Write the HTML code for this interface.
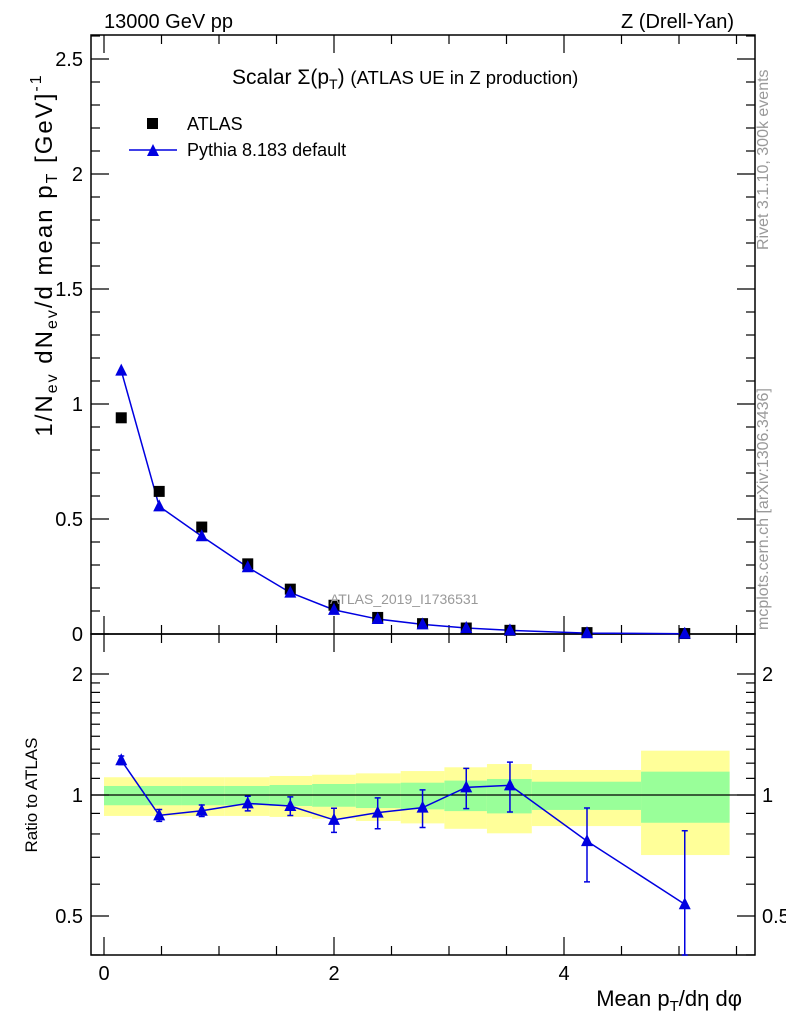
<!DOCTYPE html>
<html><head><meta charset="utf-8"><style>
body{margin:0;background:#fff;}
svg text{font-family:"Liberation Sans",sans-serif;}
</style></head><body>
<svg id="c" width="786" height="1024" xmlns="http://www.w3.org/2000/svg">
<g id="bands"></g>
<g id="axes"></g>
<g id="marks"></g>
<text x="104" y="28" font-size="20">13000 GeV pp</text>
<text x="734" y="28" font-size="20" text-anchor="end">Z (Drell-Yan)</text>
<text x="232" y="84" font-size="21">Scalar Σ(p<tspan font-size="14" dy="5">T</tspan><tspan dy="-5">) </tspan><tspan font-size="18.5">(ATLAS UE in Z production)</tspan></text>
<rect x="147" y="118" width="11" height="11" fill="#000"/>
<text x="187" y="130" font-size="18">ATLAS</text>
<line x1="129" y1="150" x2="177" y2="150" stroke="#0000e0" stroke-width="1.5"/>
<polygon points="147,156 159,156 153,144" fill="#0000e0"/>
<text x="187" y="156" font-size="18">Pythia 8.183 default</text>
<text x="330" y="604" font-size="14" fill="#999">ATLAS_2019_I1736531</text>
<text transform="translate(52,255) rotate(-90)" font-size="24" letter-spacing="2" text-anchor="middle">1/N<tspan font-size="16" dy="5">ev</tspan><tspan dy="-5"> dN</tspan><tspan font-size="16" dy="5">ev</tspan><tspan dy="-5">/d mean p</tspan><tspan font-size="16" dy="5">T</tspan><tspan dy="-5">  [GeV]</tspan><tspan font-size="16" dy="-11">-1</tspan></text>
<text transform="translate(37,795) rotate(-90)" font-size="17" text-anchor="middle">Ratio to ATLAS</text>
<text x="742" y="1006" font-size="22" text-anchor="end">Mean p<tspan font-size="15" dy="5">T</tspan><tspan dy="-5">/dη dφ</tspan></text>
<text transform="translate(768,250) rotate(-90)" font-size="16" fill="#999">Rivet 3.1.10,  300k events</text>
<text transform="translate(768,630) rotate(-90)" font-size="16" fill="#999">mcplots.cern.ch [arXiv:1306.3436]</text>
</svg>
<script>
const xPoints=[0.15,0.48,0.85,1.25,1.62,2.0,2.38,2.77,3.15,3.53,4.2,5.05];
const atlasVals=[0.94,0.62,0.465,0.305,0.195,0.125,0.072,0.045,0.026,0.016,0.006,0.002];
const pythiaVals=[1.145,0.555,0.425,0.29,0.18,0.105,0.065,0.042,0.026,0.016,0.004,0.001];
const ratioVals=[1.22,0.89,0.914,0.953,0.939,0.867,0.904,0.93,1.045,1.057,0.768,0.535];
const ratioErr=[0.03,0.03,0.03,0.04,0.05,0.06,0.08,0.1,0.12,0.15,0.16,0.28];
const binEdges=[0,0.3,0.67,1.05,1.44,1.81,2.19,2.58,2.96,3.33,3.72,4.67,5.44];
const yellowHi=[1.107,1.107,1.107,1.107,1.115,1.123,1.132,1.147,1.172,1.194,1.154,1.289];
const yellowLo=[0.887,0.887,0.887,0.887,0.882,0.873,0.862,0.850,0.824,0.803,0.837,0.709];
const greenHi=[1.053,1.053,1.053,1.053,1.059,1.065,1.069,1.073,1.086,1.096,1.079,1.143];
const greenLo=[0.943,0.943,0.943,0.943,0.939,0.935,0.928,0.921,0.912,0.900,0.918,0.853];
const xTicks=[0,2,4];
const yTicks=[0,0.5,1,1.5,2,2.5];
const rTicks=[0.5,1,2];

const NS="http://www.w3.org/2000/svg";
const L=91,R=755,T=35,MB=634,RB=955;
const X=v=>104+v*115;
const Y=v=>634-230*v;
const RY=r=>795-402*Math.log10(r);
function mk(p,tag,a){const e=document.createElementNS(NS,tag);for(const k in a)e.setAttribute(k,a[k]);document.getElementById(p).appendChild(e);return e;}

for(let i=0;i<yellowHi.length;i++){
 let e=mk('bands','rect',{x:X(binEdges[i]),width:X(binEdges[i+1])-X(binEdges[i]),y:RY(yellowHi[i]),height:RY(yellowLo[i])-RY(yellowHi[i]),fill:'#ffff99'});
 
 
 let g=mk('bands','rect',{x:X(binEdges[i]),width:X(binEdges[i+1])-X(binEdges[i]),y:RY(greenHi[i]),height:RY(greenLo[i])-RY(greenHi[i]),fill:'#99ff99'});
 
 
}
let f1=mk('axes','rect',{x:L,y:T,width:R-L,height:MB-T,fill:'none',stroke:'#000','stroke-width':1.5});


let f2=mk('axes','rect',{x:L,y:MB,width:R-L,height:RB-MB,fill:'none',stroke:'#000','stroke-width':1.5});


let one=mk('axes','line',{x1:L,x2:R,y1:RY(1),y2:RY(1),stroke:'#000','stroke-width':1.2});


for(let v=0;v<=5.6;v+=0.5){
 const major=Math.abs(v%2)<1e-6, len=major?18:9, x=X(v);
 for(const [y0,d] of [[MB,-1],[T,1],[RB,-1]]){
  let t=mk('axes','line',{x1:x,x2:x,y1:y0,y2:y0+d*len,stroke:'#000','stroke-width':1.2});
  
  
 }
 let t2=mk('axes','line',{x1:x,x2:x,y1:MB,y2:MB+len,stroke:'#000','stroke-width':1.2});
 
 
}
xTicks.forEach(v=>{let t=mk('axes','text',{x:X(v),y:980,'font-size':20,'text-anchor':'middle'});t.textContent=v;
 
 });
for(let i=0;i<=26;i++){const v=i/10,y=Y(v),len=i%5==0?18:9;
 for(const [x0,d] of [[L,1],[R,-1]]){let t=mk('axes','line',{x1:x0,x2:x0+d*len,y1:y,y2:y,stroke:'#000','stroke-width':1.2});
 
 }}
yTicks.forEach(v=>{let t=mk('axes','text',{x:83,y:Y(v)+7,'font-size':20,'text-anchor':'end'});t.textContent=v;
 
 });
const rm=[0.4,0.5,0.6,0.7,0.8,0.9,1,1.1,1.2,1.3,1.4,1.5,1.6,1.7,1.8,1.9,2];
rm.forEach(v=>{const y=RY(v),len=rTicks.includes(v)?18:9;
 for(const [x0,d] of [[L,1],[R,-1]]){let t=mk('axes','line',{x1:x0,x2:x0+d*len,y1:y,y2:y,stroke:'#000','stroke-width':1.2});
 
 }});
rTicks.forEach(v=>{for(const [x,a] of [[83,'end'],[762,'start']]){let t=mk('axes','text',{x:x,y:RY(v)+7,'font-size':20,'text-anchor':a});t.textContent=v;
 
 }});
let pl=mk('marks','polyline',{points:xPoints.map((x,i)=>X(x)+','+Y(pythiaVals[i])).join(' '),fill:'none',stroke:'#0000e0','stroke-width':1.5});


xPoints.forEach((x,i)=>{
 let r=mk('marks','rect',{x:X(x)-5.5,y:Y(atlasVals[i])-5.5,width:11,height:11,fill:'#000'});
 
 
 const px=X(x),py=Y(pythiaVals[i]);
 let p=mk('marks','polygon',{points:`${px-6},${py+5} ${px+6},${py+5} ${px},${py-7}`,fill:'#0000e0'});
 
 
});
let rl=mk('marks','polyline',{points:xPoints.map((x,i)=>X(x)+','+RY(ratioVals[i])).join(' '),fill:'none',stroke:'#0000e0','stroke-width':1.5,'clip-path':'url(#rc)'});


const cp=mk('marks','clipPath',{id:'rc'});
const cr=document.createElementNS(NS,'rect');cr.setAttribute('x',L);cr.setAttribute('y',MB);cr.setAttribute('width',R-L);cr.setAttribute('height',RB-MB);cp.appendChild(cr);
xPoints.forEach((x,i)=>{
 const px=X(x),py=RY(ratioVals[i]),y1=RY(ratioVals[i]+ratioErr[i]),y2=Math.min(RB,RY(Math.max(0.01,ratioVals[i]-ratioErr[i])));
 let e=mk('marks','path',{d:`M${px},${y1}V${y2}M${px-3},${y1}h6M${px-3},${y2}h6`,stroke:'#0000e0','stroke-width':1.5,fill:'none'});
 
 
 let p=mk('marks','polygon',{points:`${px-6},${py+5} ${px+6},${py+5} ${px},${py-7}`,fill:'#0000e0'});
 
 
});
</script>
</body></html>
